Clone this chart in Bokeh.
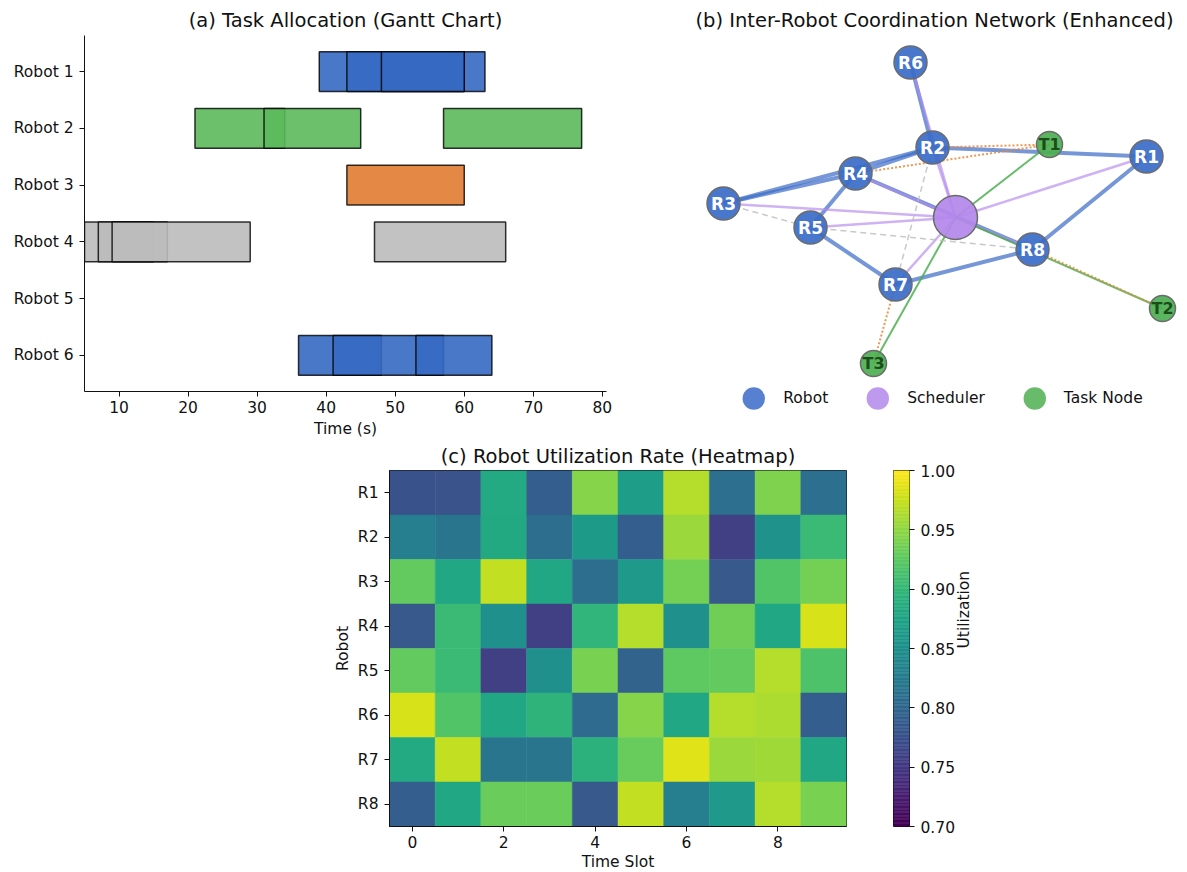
import math
from bokeh.plotting import figure
from bokeh.layouts import column, row
from bokeh.models import (Range1d, FixedTicker, ColumnDataSource, Legend, LegendItem,
                          Spacer, NumeralTickFormatter)
from bokeh.palettes import Viridis256
from bokeh.transform import linear_cmap
from bokeh.embed import file_html
from bokeh.resources import INLINE
from bokeh.core.properties import value

FONT = "DejaVu Sans"
TICK_FS = "15.5px"
TITLE_FS = "19.5px"

# ---------------- (a) Gantt data ----------------
robot_names = ["Robot 1", "Robot 2", "Robot 3", "Robot 4", "Robot 5", "Robot 6"]
robot_colors = ["#3669c2", "#5cb95c", "#e17b31", "#bbbbbb", "#bbbbbb", "#3669c2"]
task_robot = [0, 0, 0, 1, 1, 1, 2, 3, 3, 3, 3, 5, 5, 5]
task_start = [39, 43, 48, 21, 31, 57, 43, 5, 7, 9, 47, 36, 41, 53]
task_end = [63, 60, 60, 34, 45, 77, 60, 15, 17, 29, 66, 48, 57, 64]
gantt_xticks = [10, 20, 30, 40, 50, 60, 70, 80]

# ---------------- (b) Network data ----------------
node_names = ["R1", "R2", "R3", "R4", "R5", "R6", "R7", "R8", "S", "T1", "T2", "T3"]
node_kind = ["robot"] * 8 + ["scheduler"] + ["task"] * 3
node_x = [0.955, -0.115, -1.16, -0.50, -0.725, -0.225, -0.30, 0.385, 0.0, 0.47, 1.035, -0.41]
node_y = [0.305, 0.35, 0.07, 0.22, -0.05, 0.775, -0.335, -0.16, 0.0, 0.365, -0.455, -0.73]
robot_links = [("R6", "R2"), ("R2", "R1"), ("R2", "R4"), ("R3", "R4"), ("R3", "R2"),
               ("R4", "R5"), ("R4", "R8"), ("R5", "R7"), ("R7", "R8"), ("R8", "R1")]
sched_links = [("S", "R1"), ("S", "R2"), ("S", "R3"), ("S", "R4"), ("S", "R5"),
               ("S", "R6"), ("S", "R7"), ("S", "R8")]
task_links = [("S", "T1"), ("S", "T2"), ("S", "T3")]
assign_links = [("R2", "T1"), ("R4", "T1"), ("R8", "T2"), ("R7", "T3")]
weak_links = [("R3", "R5"), ("R5", "R8"), ("R2", "R7")]
legend_labels = {"robot": "Robot", "scheduler": "Scheduler", "task": "Task Node"}

# ---------------- (c) Heatmap data ----------------
heat_rows = ["R1", "R2", "R3", "R4", "R5", "R6", "R7", "R8"]
util_R1 = [0.776, 0.777, 0.883, 0.790, 0.946, 0.867, 0.967, 0.810, 0.942, 0.810]
util_R2 = [0.829, 0.817, 0.882, 0.808, 0.863, 0.790, 0.955, 0.757, 0.853, 0.904]
util_R3 = [0.928, 0.880, 0.973, 0.880, 0.808, 0.862, 0.937, 0.784, 0.919, 0.937]
util_R4 = [0.784, 0.904, 0.850, 0.757, 0.898, 0.967, 0.850, 0.935, 0.880, 0.982]
util_R5 = [0.928, 0.904, 0.757, 0.850, 0.940, 0.796, 0.925, 0.928, 0.967, 0.916]
util_R6 = [0.982, 0.918, 0.880, 0.895, 0.805, 0.946, 0.880, 0.967, 0.963, 0.790]
util_R7 = [0.883, 0.973, 0.817, 0.817, 0.893, 0.930, 0.985, 0.955, 0.957, 0.880]
util_R8 = [0.790, 0.880, 0.932, 0.932, 0.784, 0.973, 0.829, 0.862, 0.967, 0.940]
util_rows = [util_R1, util_R2, util_R3, util_R4, util_R5, util_R6, util_R7, util_R8]
cbar_ticks = [0.70, 0.75, 0.80, 0.85, 0.90, 0.95, 1.00]
VMIN, VMAX = 0.70, 1.00


def style_axis(ax, label_standoff=4, axis_label_standoff=4):
    ax.major_label_text_font = FONT
    ax.major_label_text_font_size = TICK_FS
    ax.major_label_text_color = "#111111"
    ax.axis_label_text_font = FONT
    ax.axis_label_text_font_size = TICK_FS
    ax.axis_label_text_font_style = "normal"
    ax.axis_label_text_color = "#111111"
    ax.major_tick_in = 0
    ax.major_tick_out = 5
    ax.minor_tick_line_color = None
    ax.axis_line_color = "#111111"
    ax.major_tick_line_color = "#111111"
    ax.major_label_standoff = label_standoff
    ax.axis_label_standoff = axis_label_standoff


def style_title(p, standoff):
    p.title.text_font = FONT
    p.title.text_font_size = TITLE_FS
    p.title.text_font_style = "normal"
    p.title.align = "center"
    p.title.text_color = "#111111"
    p.title.standoff = standoff


# ---------------- (a) Gantt ----------------
p1 = figure(frame_width=522, frame_height=356,
            x_range=Range1d(5, 80.6), y_range=Range1d(5.635, -0.635),
            output_backend="svg", toolbar_location=None,
            min_border_left=84, min_border_right=84, min_border_top=35, min_border_bottom=49,
            title="(a) Task Allocation (Gantt Chart)")
style_title(p1, 8)
gsrc = ColumnDataSource(dict(
    y=task_robot, left=task_start, right=task_end,
    color=[robot_colors[r] for r in task_robot]))
p1.hbar(y="y", left="left", right="right", height=0.7, source=gsrc,
        fill_color="color", fill_alpha=0.9, line_color="black", line_alpha=0.8, line_width=1.5)
p1.xgrid.visible = False
p1.ygrid.visible = False
p1.outline_line_color = None
p1.xaxis.ticker = FixedTicker(ticks=gantt_xticks)
p1.yaxis.ticker = FixedTicker(ticks=list(range(len(robot_names))))
p1.yaxis.major_label_overrides = {i: n for i, n in enumerate(robot_names)}
p1.xaxis.axis_label = "Time (s)"
style_axis(p1.xaxis[0], 4, 4)
style_axis(p1.yaxis[0], 6, 4)

# ---------------- (b) Network ----------------
p2 = figure(frame_width=488, frame_height=391,
            x_range=Range1d(-1.325, 1.115), y_range=Range1d(-1.045, 0.91),
            output_backend="svg", toolbar_location=None,
            min_border_left=0, min_border_right=0, min_border_top=35, min_border_bottom=5,
            title="(b) Inter-Robot Coordination Network (Enhanced)")
style_title(p2, 8)
p2.axis.visible = False
p2.grid.visible = False
p2.outline_line_color = None
pos = {n: (x, y) for n, x, y in zip(node_names, node_x, node_y)}


def seg_src(links):
    return ColumnDataSource(dict(
        x0=[pos[a][0] for a, b in links], y0=[pos[a][1] for a, b in links],
        x1=[pos[b][0] for a, b in links], y1=[pos[b][1] for a, b in links]))


p2.segment("x0", "y0", "x1", "y1", source=seg_src(robot_links),
           line_color="#3a6bc8", line_alpha=0.7, line_width=4)
p2.segment("x0", "y0", "x1", "y1", source=seg_src(sched_links),
           line_color="#b388eb", line_alpha=0.65, line_width=2.5)
p2.segment("x0", "y0", "x1", "y1", source=seg_src(task_links),
           line_color="#4caf50", line_alpha=0.85, line_width=2)
p2.segment("x0", "y0", "x1", "y1", source=seg_src(assign_links),
           line_color="#e8873a", line_alpha=0.85, line_width=2, line_dash="2 2")
p2.segment("x0", "y0", "x1", "y1", source=seg_src(weak_links),
           line_color="#bbbbbb", line_alpha=0.8, line_width=1.5, line_dash="6 4")

kind_style = {"robot": ("#3a6bc8", 33), "scheduler": ("#b388eb", 44), "task": ("#4caf50", 26)}
nsrc = ColumnDataSource(dict(
    x=node_x, y=node_y,
    color=[kind_style[k][0] for k in node_kind],
    size=[kind_style[k][1] for k in node_kind]))
p2.scatter("x", "y", size="size", source=nsrc, fill_color="color", fill_alpha=0.92,
           line_color="#6b6b6b", line_width=1.5)

lab_r = [i for i, k in enumerate(node_kind) if k == "robot"]
lab_t = [i for i, k in enumerate(node_kind) if k == "task"]
p2.text([node_x[i] for i in lab_r], [node_y[i] for i in lab_r], text=[node_names[i] for i in lab_r],
        text_color="white", text_font=value(FONT), text_font_style="bold", text_font_size="17px",
        text_align="center", text_baseline="middle")
p2.text([node_x[i] for i in lab_t], [node_y[i] for i in lab_t], text=[node_names[i] for i in lab_t],
        text_color="#1b4d1b", text_font=value(FONT), text_font_style="bold", text_font_size="16px",
        text_align="center", text_baseline="middle")

# legend-only renderers (zero size in the plot; the legend draws its own marker)
leg_items = []
for kind in ["robot", "scheduler", "task"]:
    idx = [i for i, k in enumerate(node_kind) if k == kind]
    r = p2.scatter([node_x[i] for i in idx], [node_y[i] for i in idx], size=0,
                   fill_color=kind_style[kind][0], fill_alpha=0.85, line_color=None)
    leg_items.append(LegendItem(label=legend_labels[kind], renderers=[r]))
legend = Legend(items=leg_items, orientation="horizontal", location="bottom_center",
                glyph_width=56, glyph_height=56, label_standoff=2, spacing=21,
                padding=0, margin=0, border_line_color=None, background_fill_alpha=0,
                label_text_font=FONT, label_text_font_size=TICK_FS, label_text_color="#111111")
p2.add_layout(legend)

# ---------------- (c) Heatmap ----------------
p3 = figure(frame_width=457, frame_height=356,
            x_range=Range1d(-0.5, 9.5), y_range=Range1d(7.5, -0.5),
            output_backend="svg", toolbar_location=None,
            min_border_left=61, min_border_right=47, min_border_top=28, min_border_bottom=45,
            title="(c) Robot Utilization Rate (Heatmap)")
style_title(p3, 5)
hx, hy, hv = [], [], []
for r, vals in enumerate(util_rows):
    for c, v in enumerate(vals):
        hx.append(c)
        hy.append(r)
        hv.append(v)
hsrc = ColumnDataSource(dict(x=hx, y=hy, v=hv))
cmap = linear_cmap("v", Viridis256, VMIN, VMAX)
p3.rect("x", "y", width=1, height=1, source=hsrc, fill_color=cmap, line_color=cmap, line_width=0.5)
p3.grid.visible = False
p3.outline_line_color = "#111111"
p3.outline_line_width = 1
p3.xaxis.ticker = FixedTicker(ticks=[0, 2, 4, 6, 8])
p3.yaxis.ticker = FixedTicker(ticks=list(range(len(heat_rows))))
p3.yaxis.major_label_overrides = {i: n for i, n in enumerate(heat_rows)}
p3.xaxis.axis_label = "Time Slot"
p3.yaxis.axis_label = "Robot"
style_axis(p3.xaxis[0], 4, 2)
style_axis(p3.yaxis[0], 6, 3)

# ---------------- colorbar ----------------
p4 = figure(frame_width=16, frame_height=356,
            x_range=Range1d(0, 1), y_range=Range1d(VMIN, VMAX),
            output_backend="svg", toolbar_location=None,
            x_axis_location=None, y_axis_location="right",
            min_border_left=0, min_border_right=10, min_border_top=28, min_border_bottom=45)
n = len(Viridis256)
step = (VMAX - VMIN) / n
p4.quad(left=0, right=1, bottom=[VMIN + i * step for i in range(n)],
        top=[VMIN + (i + 1) * step for i in range(n)],
        fill_color=list(Viridis256), line_color=list(Viridis256), line_width=0.5)
p4.grid.visible = False
p4.outline_line_color = "#111111"
p4.outline_line_width = 1
p4.yaxis.ticker = FixedTicker(ticks=cbar_ticks)
p4.yaxis.formatter = NumeralTickFormatter(format="0.00")
p4.yaxis.axis_label = "Utilization"
style_axis(p4.yaxis[0], 6, 6)
p4.yaxis.axis_line_color = None
try:
    p4.yaxis[0].axis_label_orientation = math.pi / 2
except Exception:
    pass

layout = column(row(p1, p2), row(Spacer(width=328, height=10), p3, p4))
open("out.html", "w").write(file_html(layout, INLINE))
